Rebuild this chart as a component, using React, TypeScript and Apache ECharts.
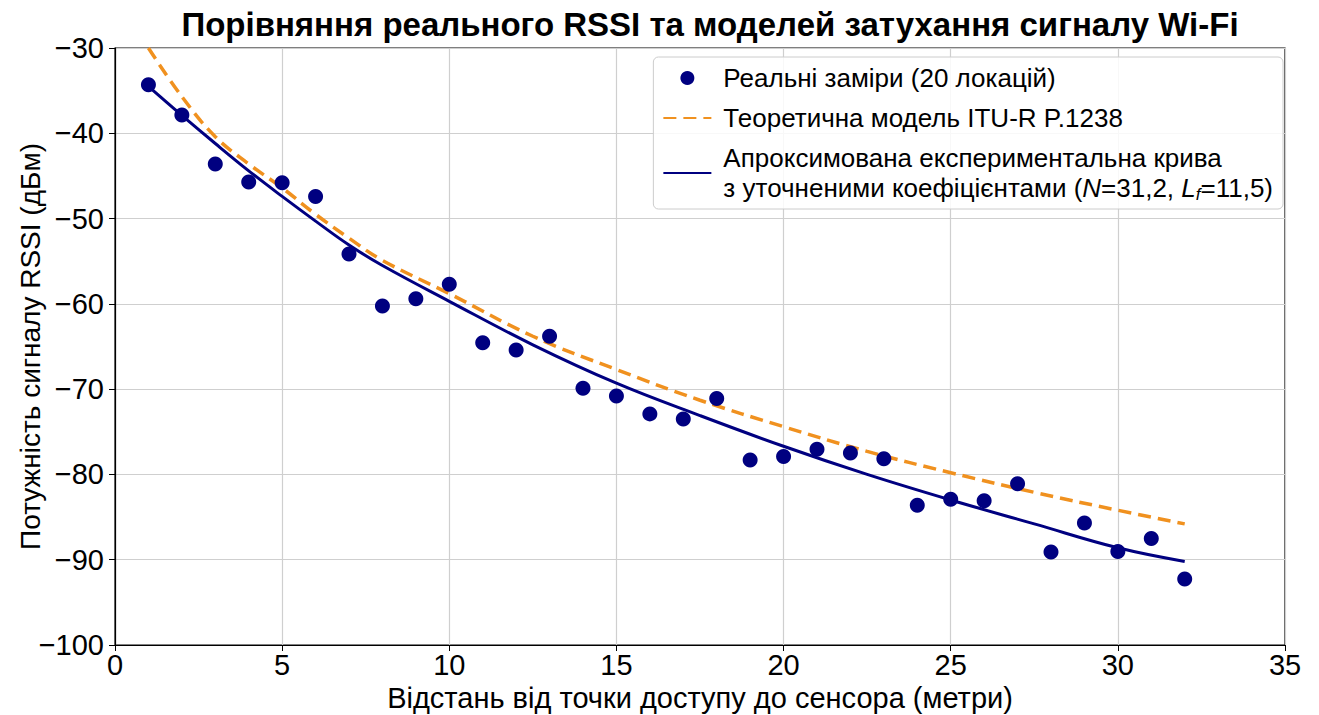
import React, { useEffect, useRef } from "react";
import * as echarts from "echarts";

const TITLE = "Порівняння реального RSSI та моделей затухання сигналу Wi-Fi";
const X_NAME = "Відстань від точки доступу до сенсора (метри)";
const Y_NAME = "Потужність сигналу RSSI (дБм)";
const NAME_MEAS = "Реальні заміри (20 локацій)";
const NAME_THEORY = "Теоретична модель ITU-R P.1238";
const NAME_FIT = "Апроксимована експериментальна крива";

const measX = [1, 2, 3, 4, 5, 6, 7, 8, 9, 10, 11, 12, 13, 14, 15, 16, 17, 18, 19, 20, 21, 22, 23, 24, 25, 26, 27, 28, 29, 30, 31, 32];
const measY = [-34.3, -37.85, -43.6, -45.7, -45.8, -47.4, -54.15, -60.25, -59.4, -57.7, -64.55, -65.4, -63.8, -69.9, -70.8, -72.9, -73.5, -71.1, -78.3, -77.9, -77.05, -77.5, -78.15, -83.6, -82.9, -83.1, -81.1, -89.1, -85.7, -89.05, -87.5, -92.25];

const curveX = [1, 2, 3, 4, 5, 6, 7, 8, 10, 12.5, 15, 17.5, 20, 22.5, 25, 27.5, 30, 32];
const theoryY = [-30, -35.7, -40.4, -43.6, -46.4, -49.5, -52.3, -54.9, -58.8, -63.8, -67.7, -71.3, -74.4, -77.3, -79.8, -82.1, -84.2, -85.8];
const fitY = [-34.5, -37.9, -41.2, -44.4, -47.4, -50.3, -53.1, -55.5, -59.7, -64.8, -69.3, -73.1, -76.7, -80.0, -83.0, -85.8, -88.6, -90.2];

const FONT = "'Liberation Sans', Arial, Helvetica, sans-serif";

export default function App() {
  const ref = useRef<HTMLDivElement>(null);
  useEffect(() => {
    if (!ref.current) return;
    document.body.style.margin = "0";
    const chart = echarts.init(ref.current, null, { renderer: "svg" });
    const zip = (xs: number[], ys: number[]) => xs.map((x, i) => [x, ys[i]]);
    chart.setOption({
      animation: false,
      textStyle: { fontFamily: FONT },
      title: {
        text: TITLE,
        left: 705,
        textAlign: "center",
        top: 3,
        textStyle: { fontFamily: FONT, fontSize: 33, fontWeight: "bold", color: "#000" },
      },
      grid: {
        left: 115,
        right: 34,
        top: 48,
        bottom: 70,
        outerBoundsMode: "none",
        containLabel: false,
        show: true,
        borderColor: "#000",
        borderWidth: 1.2,
        backgroundColor: "transparent",
      },
      xAxis: {
        type: "value",
        min: 0,
        max: 35,
        interval: 5,
        name: X_NAME,
        nameLocation: "middle",
        nameGap: 38,
        nameTextStyle: { fontFamily: FONT, fontSize: 29, color: "#000" },
        axisLine: { show: true, lineStyle: { color: "#000", width: 1.2 } },
        axisTick: { show: true, inside: false, length: 6, lineStyle: { color: "#000" } },
        axisLabel: { fontFamily: FONT, fontSize: 29, color: "#000", margin: 5 },
        splitLine: { show: true, lineStyle: { color: "#cfcfcf", width: 1.2 } },
      },
      yAxis: {
        type: "value",
        min: -100,
        max: -30,
        interval: 10,
        name: Y_NAME,
        nameLocation: "middle",
        nameGap: 71,
        nameMoveOverlap: false,
        nameTextStyle: { fontFamily: FONT, fontSize: 28, color: "#000" },
        axisLine: { show: true, lineStyle: { color: "#000", width: 1.2 } },
        axisTick: { show: true, inside: false, length: 6, lineStyle: { color: "#000" } },
        axisLabel: {
          fontFamily: FONT,
          fontSize: 29,
          color: "#000",
          margin: 11,
          formatter: (v: number) => String(v).replace("-", "\u2212"),
        },
        splitLine: { show: true, lineStyle: { color: "#cfcfcf", width: 1.2 } },
      },
      legend: {
        orient: "vertical",
        right: 36,
        top: 57,
        itemWidth: 48,
        itemHeight: 14,
        itemGap: 10,
        padding: [6, 10, 6, 9],
        backgroundColor: "rgba(255,255,255,0.85)",
        borderColor: "#cccccc",
        borderWidth: 1,
        borderRadius: 5,
        data: [
          { name: NAME_MEAS, icon: "circle" },
          { name: NAME_THEORY, itemStyle: { opacity: 0 } },
          { name: NAME_FIT, itemStyle: { opacity: 0 } },
        ],
        textStyle: {
          fontFamily: FONT,
          fontSize: 26,
          color: "#000",
          lineHeight: 30,
          padding: [0, 0, 0, 7],
          rich: {
            i: { fontFamily: FONT, fontSize: 26, fontStyle: "italic", color: "#000", lineHeight: 30 },
            sub: { fontFamily: FONT, fontSize: 17, fontStyle: "italic", color: "#000", lineHeight: 30, verticalAlign: "bottom", padding: [10, 0, 0, 0] },
          },
        },
        formatter: (name: string) =>
          name === NAME_FIT
            ? "Апроксимована експериментальна крива\nз уточненими коефіцієнтами ({i|N}=31,2, {i|L}{sub|f}=11,5)"
            : name,
      },
      series: [
        {
          name: NAME_MEAS,
          type: "scatter",
          data: zip(measX, measY),
          symbol: "circle",
          symbolSize: 15,
          itemStyle: { color: "#000080", opacity: 1 },
          z: 5,
        },
        {
          name: NAME_THEORY,
          type: "line",
          data: zip(curveX, theoryY),
          smooth: 0.4,
          symbol: "none",
          lineStyle: { color: "#f0911f", width: 3.5, type: [13, 7] },
          itemStyle: { color: "#f0911f" },
          z: 3,
        },
        {
          name: NAME_FIT,
          type: "line",
          data: zip(curveX, fitY),
          smooth: 0.4,
          symbol: "none",
          lineStyle: { color: "#000080", width: 3 },
          itemStyle: { color: "#000080" },
          z: 4,
        },
      ],
    });
    return () => chart.dispose();
  }, []);
  return <div ref={ref} style={{ width: 1319, height: 715 }} />;
}
